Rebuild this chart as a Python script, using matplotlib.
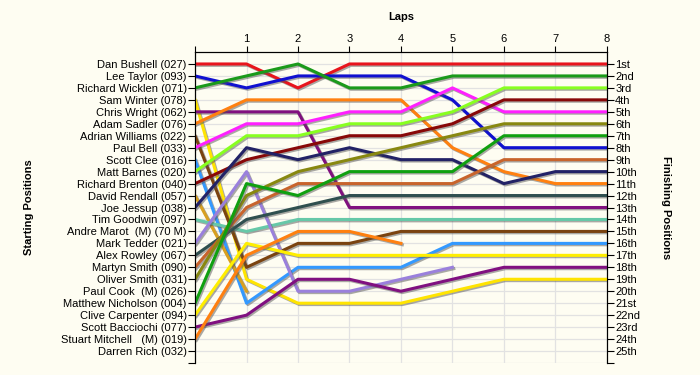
import matplotlib
matplotlib.use('Agg')
import matplotlib.pyplot as plt
import matplotlib.patheffects as pe
import numpy as np

plt.rcParams['font.family'] = ['Liberation Sans', 'DejaVu Sans']

laps = [0, 1, 2, 3, 4, 5, 6, 7, 8]

starters = ['Dan Bushell (027)', 'Lee Taylor (093)', 'Richard Wicklen (071)',
            'Sam Winter (078)', 'Chris Wright (062)', 'Adam Sadler (076)',
            'Adrian Williams (022)', 'Paul Bell (033)', 'Scott Clee (016)',
            'Matt Barnes (020)', 'Richard Brenton (040)', 'David Rendall (057)',
            'Joe Jessup (038)', 'Tim Goodwin (097)', 'Andre Marot  (M) (70 M)',
            'Mark Tedder (021)', 'Alex Rowley (067)', 'Martyn Smith (090)',
            'Oliver Smith (031)', 'Paul Cook  (M) (026)', 'Matthew Nicholson (004)',
            'Clive Carpenter (094)', 'Scott Bacciochi (077)',
            'Stuart Mitchell   (M) (019)', 'Darren Rich (032)']

finish = ['1st', '2nd', '3rd'] + ['%dth' % i for i in range(4, 21)] + \
         ['21st', '22nd', '23rd', '24th', '25th']

N = None
# position at each lap, one list per car (None = retired)
red        = [1, 1, 3, 1, 1, 1, 1, 1, 1]
blue       = [2, 3, 2, 2, 2, 4, 8, 8, 8]
green      = [3, 2, 1, 3, 3, 2, 2, 2, 2]
yellow     = [4, 19, 21, 21, 21, 20, 19, 19, 19]
purple     = [5, 5, 5, 13, 13, 13, 13, 13, 13]
orange     = [6, 4, 4, 4, 4, 8, 10, 11, 11]
brown      = [7, 18, 16, 16, 15, 15, 15, 15, 15]
magenta    = [8, 6, 6, 5, 5, 3, 5, 5, 5]
skyblue    = [9, 21, 18, 18, 18, 16, 16, 16, 16]
lime       = [10, 7, 7, 6, 6, 5, 3, 3, 3]
maroon     = [11, 9, 8, 7, 7, 6, 4, 4, 4]
goldenrod  = [12, 20, N, N, N, N, N, N, N]
navy       = [13, 8, 9, 8, 9, 9, 11, 10, 10]
aqua       = [14, 15, 14, 14, 14, 14, 14, 14, 14]
lavender   = [16, 10, 20, 20, 19, 18, N, N, N]
slate      = [17, 14, 13, 12, 12, 12, 12, 12, 12]
chocolate  = [18, 13, 11, 11, 11, 11, 9, 9, 9]
olive      = [19, 12, 10, 9, 8, 7, 6, 6, 6]
green2     = [21, 11, 12, 10, 10, 10, 7, 7, 7]
yellow2    = [22, 16, 17, 17, 17, 17, 17, 17, 17]
purple2    = [23, 22, 19, 19, 20, 19, 18, 18, 18]
orange2    = [24, 17, 15, 15, 16, N, N, N, N]

series = [
    (red, '#e8141c'), (blue, '#1010d0'), (green, '#1a9a1a'), (yellow, '#ffe400'),
    (purple, '#80107f'), (orange, '#ff8010'), (brown, '#7a4310'), (magenta, '#ff20ff'),
    (skyblue, '#3399ff'), (lime, '#88ff20'), (maroon, '#880808'), (goldenrod, '#d8a020'),
    (navy, '#222266'), (aqua, '#66c8a8'), (lavender, '#9a80dc'), (slate, '#2f4f4f'),
    (chocolate, '#c8642c'), (olive, '#888810'), (green2, '#10a010'), (yellow2, '#ffee00'),
    (purple2, '#801080'), (orange2, '#ff8010'),
]

bg = '#fefdf2'
fig, ax = plt.subplots(figsize=(7, 3.75), dpi=100)
fig.patch.set_facecolor(bg)
ax.set_facecolor(bg)
fig.subplots_adjust(left=0.2786, right=0.867, top=0.8613, bottom=0.032)

shadow = [pe.SimpleLineShadow(offset=(1, -1), shadow_color='#555555', alpha=0.5), pe.Normal()]
for pos, col in series:
    y = np.array([np.nan if p is None else p for p in pos], dtype=float)
    ax.plot(laps, y, color=col, linewidth=2.2, path_effects=shadow, zorder=3)

ax.set_xlim(0, 8)
ax.set_ylim(26, 0)
ax.set_xticks(laps)
ax.set_xticklabels([''] + [str(l) for l in laps[1:]], fontsize=8)
ax.xaxis.tick_top()
ax.xaxis.set_label_position('top')
ax.set_xlabel('Laps', fontsize=8, fontweight='bold', labelpad=10)
ax.tick_params(axis='x', length=4, pad=2)

ax.set_yticks(range(1, 27))
ax.set_yticklabels(starters + [''], fontsize=8)
ax.tick_params(axis='y', length=5, pad=1)
ax.set_ylabel('Starting Positions', fontsize=8, fontweight='bold', labelpad=80)
ax.yaxis.set_label_coords(-0.39, 0.5)

ax.grid(True, color='#e2e2e2', linewidth=0.9, zorder=0)
ax.set_axisbelow(True)
ax.spines['bottom'].set_visible(False)

ax2 = ax.twinx()
ax2.set_ylim(26, 0)
ax2.set_yticks(range(1, 27))
ax2.set_yticklabels(finish + [''], fontsize=8)
ax2.tick_params(axis='y', length=5, pad=1)
ax2.spines['bottom'].set_visible(False)
ax2.set_ylabel('Finishing Positions', fontsize=8, fontweight='bold', rotation=-90)
ax2.yaxis.set_label_coords(1.155, 0.5)

fig.savefig('out.png', dpi=100, facecolor=bg)
